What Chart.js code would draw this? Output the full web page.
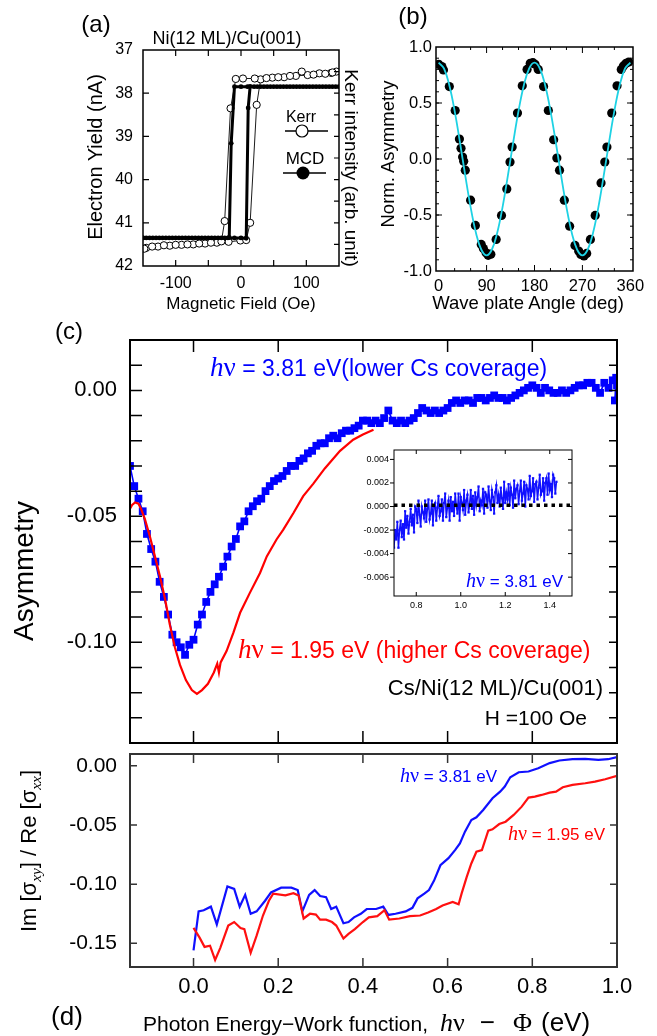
<!DOCTYPE html>
<html>
<head>
<meta charset="utf-8">
<script src="https://cdn.jsdelivr.net/npm/chart.js"></script>
<style>
  body { margin: 0; background: #fff; }
  #fig { position: relative; width: 657px; height: 1036px; overflow: hidden;
         font-family: 'Liberation Sans', Arial, Helvetica, sans-serif; color: #000; }
  #fig canvas { position: absolute; }
  .t { position: absolute; white-space: nowrap; line-height: 1; }
  .c { transform: translate(-50%, -50%); }
  .m { transform: translateY(-50%); }
  .rl { transform: translate(-50%, -50%) rotate(-90deg); }
  .rr { transform: translate(-50%, -50%) rotate(90deg); }
  .hv { font-family: 'Liberation Serif', 'Times New Roman', serif; font-size: 1.18em; }
  .hv i { font-style: italic; }
  .serif { font-family: 'Liberation Serif', 'Times New Roman', serif; }
  .blue { color: #0000ff; }
  .red { color: #ff0000; }
  sub { font-family: 'Liberation Serif', serif; font-style: italic; font-size: 0.7em; vertical-align: -0.3em; }
</style>
</head>
<body>
<div id="fig">
  <canvas id="cvA" width="360" height="300" style="left:0;top:0"></canvas>
  <canvas id="cvB" width="297" height="300" style="left:360px;top:0"></canvas>
  <canvas id="cvC" width="657" height="420" style="left:0;top:330px"></canvas>
  <canvas id="cvD" width="657" height="291" style="left:0;top:745px"></canvas>
  <canvas id="cvIn" width="240" height="180" style="left:340px;top:440px"></canvas>

  <!-- panel (a) -->
  <div class="t c" style="left:96px;top:24px;font-size:24px">(a)</div>
  <div class="t c" style="left:227px;top:38px;font-size:18px">Ni(12 ML)/Cu(001)</div>
  <div class="t rl" style="left:95px;top:157px;font-size:20px">Electron Yield (nA)</div>
  <div class="t rr" style="left:351px;top:168px;font-size:19px">Kerr intensity (arb. unit)</div>
  <div class="t c" style="left:241px;top:303px;font-size:17px">Magnetic Field (Oe)</div>
  <div class="t c" style="left:301px;top:117px;font-size:16px">Kerr</div>
  <div class="t c" style="left:305px;top:158px;font-size:17px">MCD</div>

  <!-- panel (b) -->
  <div class="t c" style="left:413px;top:16px;font-size:24px">(b)</div>
  <div class="t rl" style="left:388px;top:154px;font-size:18.5px">Norm. Asymmetry</div>
  <div class="t c" style="left:528px;top:303px;font-size:18.5px">Wave plate Angle (deg)</div>

  <!-- panel (c) -->
  <div class="t c" style="left:69px;top:331px;font-size:24px">(c)</div>
  <div class="t rl" style="left:24px;top:571px;font-size:28px">Asymmetry</div>
  <div class="t m blue" style="left:210px;top:368px;font-size:23px"><span class="hv"><i>h</i>ν</span> = 3.81 eV(lower Cs coverage)</div>
  <div class="t m red" style="left:238px;top:650px;font-size:23px"><span class="hv"><i>h</i>ν</span> = 1.95 eV (higher Cs coverage)</div>
  <div class="t m" style="right:54px;top:688px;font-size:22px">Cs/Ni(12 ML)/Cu(001)</div>
  <div class="t m" style="right:70px;top:717px;font-size:21px">H =100 Oe</div>
  <div class="t m blue" style="right:94px;top:580px;font-size:17px"><span class="hv"><i>h</i>ν</span> = 3.81 eV</div>

  <!-- panel (d) -->
  <div class="t m blue" style="left:400px;top:775px;font-size:17px"><span class="hv"><i>h</i>ν</span> = 3.81 eV</div>
  <div class="t m red" style="left:508px;top:833px;font-size:17px"><span class="hv"><i>h</i>ν</span> = 1.95 eV</div>
  <div class="t rl" style="left:31px;top:851px;font-size:22px">Im [σ<sub>xy</sub>] / Re [σ<sub>xx</sub>]</div>
  <div class="t c" style="left:67px;top:1016px;font-size:26px">(d)</div>
  <div class="t m" style="left:143px;top:1022px;font-size:21px">Photon Energy−Work function,<span class="serif" style="font-size:26px;margin-left:12px"><i>h</i>ν</span><span style="font-size:26px;margin-left:15px">−</span><span class="serif" style="font-size:26px;margin-left:18px">Φ</span><span style="font-size:26px;margin-left:9px">(eV)</span></div>
</div>

<script>
const FONT = "'Liberation Sans', Arial, Helvetica, sans-serif";

// (a) hysteresis loops, field in Oe, electron yield in nA
const kerrField = [-145, -127, -109, -91, -73, -55, -37, -19, -1, 8, 14, 24, 30, 48, 66, 84, 102, 120, 138, 146,
  140, 129, 111, 93, 75, 57, 39, 21, 3, -8, -16, -25, -30, -46, -64, -82, -100, -118, -136, -148];
const kerrSignal = [41.58, 41.55, 41.53, 41.51, 41.5, 41.48, 41.46, 41.44, 41.41, 41.4, 41.0, 38.27, 37.68, 37.64, 37.63, 37.6, 37.58, 37.54, 37.53, 37.5,
  37.52, 37.55, 37.57, 37.5, 37.6, 37.63, 37.65, 37.66, 37.66, 37.67, 38.35, 40.96, 41.43, 41.46, 41.48, 41.5, 41.51, 41.52, 41.55, 41.6];
const mcdField = [-150, -140, -130, -120, -110, -100, -90, -80, -70, -60, -50, -40, -30, -20, -10, 0, 8, 11, 14,
  25, 35, 45, 55, 65, 75, 85, 95, 105, 115, 125, 135, 145, 150,
  140, 130, 120, 110, 100, 90, 80, 70, 60, 50, 40, 30, 20, 10, 0, -10, -15, -18,
  -25, -35, -45, -55, -65, -75, -85, -95, -105, -115, -125, -135, -145, -150];
const mcdSignal = [41.35, 41.35, 41.35, 41.35, 41.35, 41.35, 41.35, 41.35, 41.35, 41.35, 41.35, 41.35, 41.35, 41.35, 41.35, 41.35, 41.36, 38.34, 37.84,
  37.85, 37.85, 37.85, 37.85, 37.85, 37.85, 37.85, 37.85, 37.85, 37.85, 37.85, 37.85, 37.85, 37.85,
  37.85, 37.85, 37.85, 37.85, 37.85, 37.85, 37.85, 37.85, 37.85, 37.85, 37.85, 37.85, 37.85, 37.85, 37.85, 37.85, 39.16, 41.34,
  41.35, 41.35, 41.35, 41.35, 41.35, 41.35, 41.35, 41.35, 41.35, 41.35, 41.35, 41.35, 41.35, 41.35];
const fieldTicks = [-100, 0, 100];
const yieldTicks = [37, 38, 39, 40, 41, 42];

// (b) normalized asymmetry vs wave plate angle
const plateAngle = [0, 6, 9, 20, 31, 39, 42, 45, 47, 50, 60, 69, 80, 84, 89, 93, 98, 108, 118, 128,
  134, 138, 148, 157, 166, 172, 177, 181, 187, 197, 206, 216, 222, 227, 236, 246, 256, 263, 267, 273,
  278, 285, 294, 305, 312, 316, 325, 335, 343, 347, 352, 357];
const normAsym = [0.846, 0.825, 0.795, 0.647, 0.433, 0.178, 0.095, 0.018, -0.021, -0.1, -0.368, -0.593, -0.763, -0.8, -0.837, -0.86, -0.85, -0.718, -0.504, -0.267,
  -0.027, 0.107, 0.41, 0.653, 0.8, 0.855, 0.86, 0.846, 0.8, 0.647, 0.433, 0.172, 0.009, -0.1, -0.368, -0.6, -0.772, -0.822, -0.852, -0.866,
  -0.843, -0.718, -0.504, -0.214, -0.027, 0.107, 0.41, 0.653, 0.8, 0.831, 0.855, 0.866];
const fitAngle = [0, 10, 20, 30, 40, 50, 60, 70, 80, 90, 100, 110, 120, 130, 140, 150, 160, 170, 180,
  190, 200, 210, 220, 230, 240, 250, 260, 270, 280, 290, 300, 310, 320, 330, 340, 350, 360];
const fitAsym = [0.86, 0.808, 0.659, 0.43, 0.149, -0.149, -0.43, -0.659, -0.808, -0.86, -0.808, -0.659, -0.43, -0.149, 0.149, 0.43, 0.659, 0.808, 0.86,
  0.808, 0.659, 0.43, 0.149, -0.149, -0.43, -0.659, -0.808, -0.86, -0.808, -0.659, -0.43, -0.149, 0.149, 0.43, 0.659, 0.808, 0.86];
const angleTicks = [0, 90, 180, 270, 360];
const normTicks = [-1, -0.5, 0, 0.5, 1];

// (c) asymmetry vs photon energy minus work function (eV)
const energy381 = [-0.15, -0.14, -0.13, -0.12, -0.11, -0.10, -0.09, -0.08, -0.07, -0.06,
  -0.05, -0.04, -0.03, -0.02, -0.01, 0.00, 0.01, 0.02, 0.03, 0.04,
  0.05, 0.06, 0.07, 0.08, 0.09, 0.10, 0.11, 0.12, 0.13, 0.14,
  0.15, 0.16, 0.17, 0.18, 0.19, 0.20, 0.21, 0.22, 0.23, 0.24,
  0.25, 0.26, 0.27, 0.28, 0.29, 0.30, 0.31, 0.32, 0.33, 0.34,
  0.35, 0.36, 0.37, 0.38, 0.39, 0.40, 0.41, 0.42, 0.43, 0.44,
  0.45, 0.46, 0.47, 0.48, 0.49, 0.50, 0.51, 0.52, 0.53, 0.54,
  0.55, 0.56, 0.57, 0.58, 0.59, 0.60, 0.61, 0.62, 0.63, 0.64,
  0.65, 0.66, 0.67, 0.68, 0.69, 0.70, 0.71, 0.72, 0.73, 0.74,
  0.75, 0.76, 0.77, 0.78, 0.79, 0.80, 0.81, 0.82, 0.83, 0.84,
  0.85, 0.86, 0.87, 0.88, 0.89, 0.90, 0.91, 0.92, 0.93, 0.94,
  0.95, 0.96, 0.97, 0.98, 0.99, 1.00, 0.995, 0.998];
const asym381 = [-0.030, -0.038, -0.043, -0.048, -0.057, -0.063, -0.068, -0.076, -0.082, -0.089,
  -0.097, -0.100, -0.102, -0.105, -0.101, -0.099, -0.093, -0.089, -0.084, -0.080,
  -0.077, -0.074, -0.070, -0.066, -0.062, -0.059, -0.054, -0.052, -0.048, -0.046,
  -0.044, -0.043, -0.040, -0.038, -0.036, -0.035, -0.034, -0.032, -0.030, -0.030,
  -0.028, -0.027, -0.025, -0.024, -0.022, -0.021, -0.021, -0.019, -0.018, -0.019,
  -0.017, -0.016, -0.016, -0.015, -0.014, -0.012, -0.012, -0.013, -0.012, -0.013,
  -0.011, -0.008, -0.012, -0.013, -0.012, -0.013, -0.012, -0.011, -0.009, -0.007,
  -0.008, -0.009, -0.008, -0.009, -0.008, -0.007, -0.005, -0.004, -0.005, -0.004,
  -0.004, -0.005, -0.003, -0.003, -0.004, -0.003, -0.002, -0.003, -0.003, -0.004,
  -0.003, -0.002, -0.001, 0.000, 0.001, 0.002, 0.001, -0.001, 0.001, 0.000,
  -0.001, -0.001, 0.000, -0.001, 0.000, 0.001, 0.002, 0.002, 0.003, 0.003,
  0.001, -0.001, 0.003, 0.001, 0.004, 0.002, -0.004, 0.005];
const energy195 = [-0.150, -0.145, -0.138, -0.130, -0.124, -0.115, -0.103, -0.091, -0.079, -0.067,
  -0.056, -0.044, -0.032, -0.018, -0.004, 0.008, 0.020, 0.034, 0.048, 0.056,
  0.060, 0.064, 0.078, 0.094, 0.110, 0.133, 0.157, 0.173, 0.196, 0.212,
  0.236, 0.259, 0.283, 0.310, 0.346, 0.377, 0.400, 0.425];
const asym195 = [-0.047, -0.0455, -0.0445, -0.045, -0.047, -0.051, -0.058, -0.066, -0.074, -0.083,
  -0.093, -0.102, -0.109, -0.115, -0.119, -0.1205, -0.119, -0.1165, -0.112, -0.1085,
  -0.112, -0.108, -0.1035, -0.0963, -0.0883, -0.0804, -0.0725, -0.0659, -0.0592, -0.0553,
  -0.0487, -0.042, -0.037, -0.031, -0.024, -0.0196, -0.0175, -0.0156];
const energyTicks = [0, 0.2, 0.4, 0.6, 0.8, 1.0];
const asymTicks = [-0.10, -0.05, 0];

// (c) inset, high energy tail at 3.81 eV
const insetEnergy = [0.700, 0.705, 0.710, 0.715, 0.720, 0.725, 0.730, 0.735, 0.740, 0.745,
  0.750, 0.755, 0.760, 0.765, 0.770, 0.775, 0.780, 0.785, 0.790, 0.795,
  0.800, 0.805, 0.810, 0.815, 0.820, 0.825, 0.830, 0.835, 0.840, 0.845,
  0.850, 0.855, 0.860, 0.865, 0.870, 0.875, 0.880, 0.885, 0.890, 0.895,
  0.900, 0.905, 0.910, 0.915, 0.920, 0.925, 0.930, 0.935, 0.940, 0.945,
  0.950, 0.955, 0.960, 0.965, 0.970, 0.975, 0.980, 0.985, 0.990, 0.995,
  1.000, 1.005, 1.010, 1.015, 1.020, 1.025, 1.030, 1.035, 1.040, 1.045,
  1.050, 1.055, 1.060, 1.065, 1.070, 1.075, 1.080, 1.085, 1.090, 1.095,
  1.100, 1.105, 1.110, 1.115, 1.120, 1.125, 1.130, 1.135, 1.140, 1.145,
  1.150, 1.155, 1.160, 1.165, 1.170, 1.175, 1.180, 1.185, 1.190, 1.195,
  1.200, 1.205, 1.210, 1.215, 1.220, 1.225, 1.230, 1.235, 1.240, 1.245,
  1.250, 1.255, 1.260, 1.265, 1.270, 1.275, 1.280, 1.285, 1.290, 1.295,
  1.300, 1.305, 1.310, 1.315, 1.320, 1.325, 1.330, 1.335, 1.340, 1.345,
  1.350, 1.355, 1.360, 1.365, 1.370, 1.375, 1.380, 1.385, 1.390, 1.395,
  1.400, 1.405, 1.410, 1.415, 1.420, 1.425, 1.430];
const insetAsym = [-0.0035, -0.0020, -0.0028, -0.0013, -0.0035, -0.0020, -0.0012, -0.0026, -0.0015, -0.0028,
  -0.0004, -0.0018, -0.0008, -0.0023, -0.0013, -0.0002, -0.0016, -0.0007, -0.0022, 0.0000,
  -0.0002, -0.0014, 0.0005, -0.0007, -0.0017, 0.0000, -0.0005, -0.0010, 0.0005, -0.0013,
  -0.0002, 0.0006, -0.0011, -0.0006, 0.0005, -0.0016, 0.0000, 0.0003, -0.0012, -0.0001,
  0.0009, -0.0008, -0.0004, 0.0006, -0.0012, 0.0003, 0.0011, -0.0009, -0.0001, 0.0005,
  -0.0012, 0.0008, -0.0004, 0.0004, -0.0008, 0.0011, 0.0001, -0.0006, 0.0011, -0.0012,
  0.0008, 0.0003, -0.0003, 0.0014, -0.0007, 0.0005, 0.0010, -0.0005, 0.0002, 0.0014,
  -0.0002, 0.0009, -0.0007, 0.0012, 0.0001, 0.0008, 0.0017, -0.0004, 0.0005, 0.0001,
  0.0015, -0.0006, 0.0012, 0.0010, -0.0001, 0.0017, 0.0005, -0.0003, 0.0014, 0.0008,
  -0.0006, 0.0012, 0.0018, 0.0003, 0.0010, 0.0000, 0.0016, 0.0007, -0.0002, 0.0021,
  0.0003, 0.0012, 0.0006, 0.0019, 0.0001, 0.0016, 0.0010, -0.0001, 0.0022, 0.0007,
  0.0015, 0.0018, 0.0002, 0.0013, 0.0022, 0.0005, 0.0011, 0.0021, 0.0000, 0.0018,
  0.0015, 0.0006, 0.0026, 0.0009, 0.0013, 0.0024, 0.0004, 0.0019, 0.0021, 0.0006,
  0.0016, 0.0027, 0.0010, 0.0013, 0.0024, 0.0005, 0.0020, 0.0024, 0.0010, 0.0028,
  0.0014, 0.0019, 0.0008, 0.0027, 0.0024, 0.0011, 0.0021];
const insetBaseE = [0.7, 1.5];
const insetBase = [0.0001, 0.0001];
const insetEnergyTicks = [0.8, 1.0, 1.2, 1.4];
const insetAsymTicks = [-0.006, -0.004, -0.002, 0, 0.002, 0.004];

// (d) Im[sigma_xy]/Re[sigma_xx]
const ratioE381 = [0.000, 0.012, 0.024, 0.041, 0.055, 0.080, 0.096, 0.109, 0.122, 0.135,
  0.149, 0.169, 0.183, 0.207, 0.231, 0.246, 0.257, 0.273, 0.286, 0.299,
  0.313, 0.325, 0.337, 0.354, 0.366, 0.379, 0.395, 0.409, 0.431, 0.448,
  0.460, 0.477, 0.501, 0.517, 0.529, 0.545, 0.556, 0.568, 0.583, 0.602,
  0.618, 0.629, 0.641, 0.656, 0.668, 0.684, 0.706, 0.724, 0.735, 0.748,
  0.768, 0.791, 0.814, 0.841, 0.864, 0.895, 0.925, 0.956, 0.979, 1.000];
const ratio381 = [-0.156, -0.123, -0.122, -0.119, -0.134, -0.102, -0.104, -0.119, -0.109, -0.125,
  -0.123, -0.114, -0.107, -0.103, -0.103, -0.105, -0.123, -0.109, -0.105, -0.110,
  -0.111, -0.121, -0.119, -0.133, -0.132, -0.128, -0.125, -0.121, -0.121, -0.119,
  -0.126, -0.125, -0.123, -0.120, -0.112, -0.108, -0.105, -0.097, -0.084, -0.078,
  -0.071, -0.0655, -0.0556, -0.0458, -0.0435, -0.0373, -0.0274, -0.0218, -0.0175, -0.0096,
  -0.0054, -0.0048, -0.002, 0.0023, 0.0045, 0.0056, 0.0059, 0.0051, 0.0056, 0.0073];
const ratioE195 = [0.000, 0.014, 0.026, 0.039, 0.051, 0.063, 0.082, 0.096, 0.111, 0.120,
  0.135, 0.149, 0.164, 0.178, 0.188, 0.217, 0.236, 0.248, 0.260, 0.275,
  0.289, 0.299, 0.313, 0.327, 0.337, 0.354, 0.366, 0.381, 0.400, 0.414,
  0.434, 0.451, 0.462, 0.486, 0.511, 0.535, 0.554, 0.573, 0.588, 0.612,
  0.626, 0.633, 0.645, 0.656, 0.668, 0.681, 0.696, 0.706, 0.722, 0.737,
  0.756, 0.775, 0.791, 0.806, 0.822, 0.841, 0.856, 0.872, 0.895, 0.925,
  0.948, 0.972, 1.000];
const ratio195 = [-0.137, -0.145, -0.153, -0.152, -0.164, -0.154, -0.135, -0.132, -0.137, -0.138,
  -0.158, -0.1435, -0.1265, -0.114, -0.108, -0.1095, -0.1076, -0.1095, -0.129, -0.125,
  -0.1257, -0.130, -0.130, -0.132, -0.135, -0.146, -0.142, -0.138, -0.132, -0.128,
  -0.127, -0.122, -0.130, -0.129, -0.127, -0.1265, -0.124, -0.121, -0.118, -0.115,
  -0.117, -0.108, -0.094, -0.0825, -0.0726, -0.0712, -0.0548, -0.0537, -0.0492, -0.0472,
  -0.0415, -0.0345, -0.0268, -0.026, -0.0246, -0.0226, -0.0218, -0.0181, -0.0161, -0.0147,
  -0.0133, -0.0113, -0.0085];
const ratioTicks = [-0.15, -0.10, -0.05, 0];

function pts(xs, ys) {
  return xs.map((x, i) => ({ x, y: ys[i] }));
}

// evenly spaced positions for unlabeled minor tick marks
function steps(from, to, step) {
  const out = [];
  for (let v = from; v <= to + step / 2; v += step) out.push(Math.round(v * 1e6) / 1e6);
  return out;
}

function axis({ min, max, ticks, fmt, size, fontSize, pad, horizontal, show = true, reverse = false }) {
  return {
    type: 'linear', min, max, reverse,
    grid: { display: false, drawTicks: false },
    border: { display: false },
    ticks: {
      display: show, autoSkip: false, maxRotation: 0, minRotation: 0, padding: pad, color: '#000',
      font: { family: FONT, size: fontSize }, callback: v => fmt(v)
    },
    afterBuildTicks: s => { s.ticks = ticks.map(v => ({ value: v })); },
    // fixed axis box, and no extra room for overhanging end labels
    afterFit: s => {
      if (horizontal) { s.height = size; s.paddingLeft = 0; s.paddingRight = 0; }
      else { s.width = size; s.paddingTop = 0; s.paddingBottom = 0; }
    }
  };
}

// closed box with inward tick marks on every side
const framePlugin = {
  id: 'frame',
  afterDatasetsDraw(chart, args, o) {
    const { ctx, chartArea: a } = chart;
    const sx = chart.scales.x, sy = chart.scales.y;
    ctx.save();
    ctx.strokeStyle = o.color;
    ctx.lineWidth = o.tickWidth;
    ctx.beginPath();
    for (const [vals, len] of o.x || []) for (const v of vals) {
      const p = sx.getPixelForValue(v);
      ctx.moveTo(p, a.bottom); ctx.lineTo(p, a.bottom - len);
      ctx.moveTo(p, a.top); ctx.lineTo(p, a.top + len);
    }
    for (const [vals, len] of o.left || []) for (const v of vals) {
      const p = sy.getPixelForValue(v);
      ctx.moveTo(a.left, p); ctx.lineTo(a.left + len, p);
    }
    for (const [vals, len] of o.right || []) for (const v of vals) {
      const p = sy.getPixelForValue(v);
      ctx.moveTo(a.right, p); ctx.lineTo(a.right - len, p);
    }
    ctx.stroke();
    ctx.lineWidth = o.width;
    ctx.strokeRect(a.left, a.top, a.right - a.left, a.bottom - a.top);
    ctx.restore();
  }
};

// Kerr / MCD key inside panel (a)
const keyPlugin = {
  id: 'key',
  afterDraw(chart) {
    const ctx = chart.ctx;
    ctx.save();
    ctx.strokeStyle = '#000';
    ctx.lineWidth = 1.5;
    ctx.beginPath();
    ctx.moveTo(285, 131); ctx.lineTo(328, 131);
    ctx.moveTo(283, 173); ctx.lineTo(326, 173);
    ctx.stroke();
    ctx.fillStyle = '#fff';
    ctx.lineWidth = 1.2;
    ctx.beginPath(); ctx.arc(302, 131, 6, 0, Math.PI * 2); ctx.fill(); ctx.stroke();
    ctx.fillStyle = '#000';
    ctx.beginPath(); ctx.arc(303, 173, 6.5, 0, Math.PI * 2); ctx.fill();
    ctx.restore();
  }
};

function makeChart(id, datasets, x, y, frame, padding, extra = []) {
  return new Chart(document.getElementById(id), {
    type: 'scatter',
    data: { datasets },
    options: {
      animation: false, responsive: false, events: [],
      layout: { padding },
      scales: { x, y },
      plugins: { legend: { display: false }, tooltip: { enabled: false }, frame }
    },
    plugins: [framePlugin, ...extra]
  });
}

// (a)
makeChart('cvA', [
  { data: pts(mcdField, mcdSignal), showLine: true, borderColor: '#000', borderWidth: 3,
    pointRadius: 2.4, pointBackgroundColor: '#000', pointBorderWidth: 0 },
  { data: pts(kerrField, kerrSignal), showLine: true, borderColor: '#000', borderWidth: 0.9,
    pointRadius: 3.6, pointBackgroundColor: '#fff', pointBorderColor: '#000', pointBorderWidth: 1 }
],
  axis({ min: -150, max: 150, ticks: fieldTicks, fmt: v => String(v), size: 34, fontSize: 16, pad: 8, horizontal: true }),
  axis({ min: 37, max: 42, ticks: yieldTicks, fmt: v => String(v), size: 143, fontSize: 16, pad: 10, reverse: true }),
  { color: '#000', width: 1.5, tickWidth: 1.2,
    x: [[[-100, -50, 0, 50, 100], 6]], left: [[[38, 39, 40, 41], 6]], right: [[steps(37.5, 41.5, 0.5), 5]] },
  { left: 0, top: 50, right: 21, bottom: 0 }, [keyPlugin]);

// (b)
makeChart('cvB', [
  { data: pts(fitAngle, fitAsym), showLine: true, borderColor: '#1ed2e4', borderWidth: 1.8,
    tension: 0.4, pointRadius: 0 },
  { data: pts(plateAngle, normAsym), pointRadius: 4.6, pointBackgroundColor: '#000', pointBorderWidth: 0 }
],
  axis({ min: -5, max: 365, ticks: angleTicks, fmt: v => String(v), size: 29, fontSize: 16.5, pad: 6, horizontal: true }),
  axis({ min: -1, max: 1, ticks: normTicks, fmt: v => v.toFixed(1), size: 76, fontSize: 16.5, pad: 4 }),
  { color: '#000', width: 1.5, tickWidth: 1,
    x: [[[90, 180, 270], 6], [[30, 60, 120, 150, 210, 240, 300, 330], 3]],
    left: [[[-0.5, 0, 0.5], 6], [steps(-0.9, 0.9, 0.1), 3]],
    right: [[[-0.5, 0, 0.5], 6], [steps(-0.9, 0.9, 0.1), 3]] },
  { left: 0, top: 47, right: 24, bottom: 0 });

// (c)
makeChart('cvC', [
  { data: pts(energy195, asym195), showLine: true, borderColor: '#ff0000', borderWidth: 2.2, pointRadius: 0 },
  { data: pts(energy381, asym381), showLine: true, borderColor: '#0000ff', borderWidth: 1.6,
    pointStyle: 'rect', pointRadius: 5.5, pointBackgroundColor: '#0000ff', pointBorderWidth: 0 }
],
  axis({ min: -0.15, max: 1.0, ticks: energyTicks, fmt: v => v.toFixed(1), size: 0, fontSize: 1, pad: 0, horizontal: true, show: false }),
  axis({ min: -0.14, max: 0.02, ticks: asymTicks, fmt: v => v.toFixed(2), size: 130, fontSize: 22, pad: 13 }),
  { color: '#000', width: 2, tickWidth: 1.5,
    x: [[[0, 0.2, 0.4, 0.6, 0.8], 12]], left: [[steps(-0.13, 0.01, 0.01), 12]], right: [[steps(-0.13, 0.01, 0.01), 8]] },
  { left: 0, top: 10, right: 40, bottom: 7 });

// (c) inset
makeChart('cvIn', [
  { data: pts(insetBaseE, insetBase), showLine: true, borderColor: '#000', borderWidth: 3.5,
    borderDash: [3.5, 4], pointRadius: 0 },
  { data: pts(insetEnergy, insetAsym), showLine: true, borderColor: '#1010ff', borderWidth: 1.5,
    pointStyle: 'rect', pointRadius: 1.6, pointBackgroundColor: '#1010ff', pointBorderWidth: 0 }
],
  axis({ min: 0.7, max: 1.5, ticks: insetEnergyTicks, fmt: v => v.toFixed(1), size: 24, fontSize: 9, pad: 4, horizontal: true }),
  axis({ min: -0.0076, max: 0.0048, ticks: insetAsymTicks, fmt: v => v.toFixed(3), size: 54, fontSize: 9, pad: 5 }),
  { color: '#000', width: 1, tickWidth: 1,
    x: [[insetEnergyTicks, 4]], left: [[insetAsymTicks, -4]], right: [[insetAsymTicks, 4]] },
  { left: 0, top: 10, right: 8, bottom: 0 });

// (d)
makeChart('cvD', [
  { data: pts(ratioE195, ratio195), showLine: true, borderColor: '#ff1010', borderWidth: 2.2, pointRadius: 0 },
  { data: pts(ratioE381, ratio381), showLine: true, borderColor: '#1010ff', borderWidth: 2.2, pointRadius: 0 }
],
  axis({ min: -0.15, max: 1.0, ticks: energyTicks, fmt: v => v.toFixed(1), size: 69, fontSize: 22, pad: 7, horizontal: true }),
  axis({ min: -0.17, max: 0.01, ticks: ratioTicks, fmt: v => v.toFixed(2), size: 130, fontSize: 21, pad: 13 }),
  { color: '#333', width: 2, tickWidth: 1.5,
    x: [[[0, 0.2, 0.4, 0.6, 0.8], 9]], left: [[ratioTicks, 7]], right: [[ratioTicks, 7]] },
  { left: 0, top: 9, right: 40, bottom: 0 });
</script>
</body>
</html>
